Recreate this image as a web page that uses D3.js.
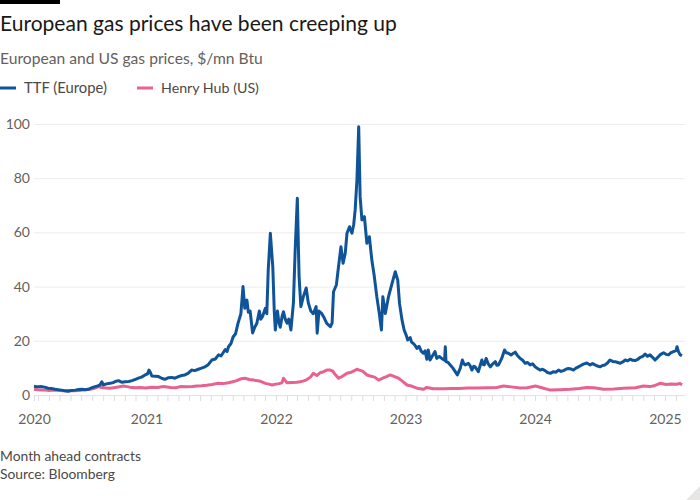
<!DOCTYPE html>
<html>
<head>
<meta charset="utf-8">
<script src="https://cdn.jsdelivr.net/npm/d3@7/dist/d3.min.js"></script>
<style>
  html, body { margin: 0; padding: 0; background: #ffffff; }
  svg { display: block; }
  text { font-family: "Lato", "Noto Sans", sans-serif; }
</style>
</head>
<body>
<svg id="chart" width="700" height="500"></svg>
<script>
// ---------------- DATA ----------------
const seriesNames = ["TTF (Europe)", "Henry Hub (US)"];
const seriesColors = ["#0f5499", "#e8628f"];

const ttfDates = ["2020-02-19","2020-03-01","2020-03-12","2020-03-20","2020-03-30","2020-04-08","2020-04-18","2020-04-28","2020-05-07","2020-05-15","2020-05-26","2020-06-03","2020-06-14","2020-06-24","2020-07-03","2020-07-12","2020-07-21","2020-07-30","2020-08-09","2020-08-16","2020-08-23","2020-08-28","2020-09-01","2020-09-10","2020-09-20","2020-09-30","2020-10-05","2020-10-14","2020-10-24","2020-11-02","2020-11-12","2020-11-21","2020-12-01","2020-12-09","2020-12-18","2020-12-28","2021-01-04","2021-01-08","2021-01-12","2021-01-16","2021-01-25","2021-02-04","2021-02-14","2021-02-22","2021-03-04","2021-03-13","2021-03-22","2021-04-01","2021-04-10","2021-04-19","2021-04-28","2021-05-08","2021-05-17","2021-05-27","2021-06-05","2021-06-15","2021-06-24","2021-07-04","2021-07-14","2021-07-23","2021-07-30","2021-08-11","2021-08-16","2021-08-20","2021-08-27","2021-09-02","2021-09-09","2021-09-16","2021-09-24","2021-09-30","2021-10-05","2021-10-11","2021-10-15","2021-10-20","2021-10-27","2021-11-02","2021-11-08","2021-11-15","2021-11-19","2021-11-24","2021-12-02","2021-12-06","2021-12-10","2021-12-16","2021-12-23","2021-12-27","2021-12-30","2022-01-05","2022-01-09","2022-01-13","2022-01-18","2022-01-22","2022-01-27","2022-02-01","2022-02-06","2022-02-12","2022-02-19","2022-02-24","2022-03-02","2022-03-07","2022-03-12","2022-03-19","2022-03-27","2022-04-02","2022-04-09","2022-04-16","2022-04-24","2022-04-27","2022-05-02","2022-05-10","2022-05-15","2022-05-24","2022-06-03","2022-06-08","2022-06-12","2022-06-20","2022-06-26","2022-07-03","2022-07-09","2022-07-15","2022-07-20","2022-07-27","2022-08-03","2022-08-08","2022-08-12","2022-08-17","2022-08-22","2022-08-26","2022-08-31","2022-09-07","2022-09-14","2022-09-21","2022-09-28","2022-10-05","2022-10-12","2022-10-19","2022-10-25","2022-10-29","2022-11-05","2022-11-14","2022-11-24","2022-12-03","2022-12-10","2022-12-15","2022-12-22","2022-12-28","2023-01-03","2023-01-07","2023-01-14","2023-01-18","2023-01-23","2023-01-28","2023-02-02","2023-02-08","2023-02-14","2023-02-20","2023-02-25","2023-03-02","2023-03-06","2023-03-11","2023-03-18","2023-03-25","2023-03-30","2023-04-06","2023-04-13","2023-04-21","2023-04-23","2023-04-25","2023-05-01","2023-05-07","2023-05-14","2023-05-21","2023-05-27","2023-06-04","2023-06-10","2023-06-14","2023-06-18","2023-06-27","2023-07-02","2023-07-07","2023-07-12","2023-07-16","2023-07-25","2023-08-04","2023-08-08","2023-08-11","2023-08-16","2023-08-22","2023-08-28","2023-09-04","2023-09-11","2023-09-15","2023-09-20","2023-09-29","2023-10-07","2023-10-12","2023-10-18","2023-10-25","2023-11-01","2023-11-06","2023-11-11","2023-11-20","2023-11-27","2023-12-04","2023-12-11","2023-12-18","2023-12-25","2024-01-01","2024-01-08","2024-01-15","2024-01-22","2024-01-29","2024-02-05","2024-02-13","2024-02-22","2024-02-29","2024-03-07","2024-03-14","2024-03-21","2024-03-28","2024-04-04","2024-04-11","2024-04-18","2024-04-25","2024-05-02","2024-05-09","2024-05-16","2024-05-26","2024-06-04","2024-06-11","2024-06-18","2024-06-25","2024-07-02","2024-07-09","2024-07-16","2024-07-23","2024-07-30","2024-08-07","2024-08-14","2024-08-21","2024-08-28","2024-09-04","2024-09-11","2024-09-18","2024-09-25","2024-10-02","2024-10-09","2024-10-16","2024-10-23","2024-10-30","2024-11-06","2024-11-13","2024-11-20","2024-11-27","2024-12-04","2024-12-11","2024-12-18","2024-12-28","2025-01-04","2025-01-11","2025-01-18","2025-01-25","2025-02-01","2025-02-04","2025-02-08","2025-02-13","2025-02-18"];
const ttfValues = [3.2,3.0,3.1,2.9,2.5,2.4,2.1,1.9,1.8,1.6,1.4,1.7,1.8,2.0,2.1,1.9,2.1,2.6,3.1,3.3,3.7,4.9,3.7,4.1,4.3,4.6,5.0,5.3,4.7,4.9,5.0,5.3,5.8,6.2,6.6,7.4,7.8,9.2,8.3,7.0,6.9,6.8,6.1,5.8,6.4,6.5,6.2,6.8,7.2,7.4,8.0,9.2,9.0,9.5,9.9,10.4,11.2,12.9,13.3,14.8,14.4,16.8,16.0,17.8,19.0,21.4,22.6,26.5,30,40,32,35,30.5,31,22.9,25,26.5,31,28,29,32,30,46,59.7,47,31,24,31,27,25,29,30.7,28,26.5,28,24,34,53.5,72.6,43.7,32.6,36.3,39.5,34,31,30,32.6,22.8,31,30,28.9,26.4,25.2,26.5,38.1,40.6,47.3,54.7,48.6,52.3,59.7,62.1,59.7,63,68.3,79.3,99,73.2,64.6,65.8,56,58.4,49.8,43.7,36.3,30.1,24,36.3,30.1,36.3,41.2,45.5,42.4,33.8,27.7,24,22,20.3,21.2,19.5,19,18.3,17.2,18,16.2,15.4,16.3,13.2,16.6,12.9,14.5,16,13.5,14.2,13.5,12.8,17.8,12.3,12.0,11.1,10.0,8.6,7.4,9.8,12.9,11.6,11.1,11.7,10.8,9.2,10.6,10.4,8.6,12.9,11.2,11.1,13.5,11.5,10.4,11.5,12.3,11.0,11.1,13.5,16.6,15.6,15.4,14.8,15.4,15.8,14.8,13.5,12.8,11.7,12.0,11.1,11.5,10.4,9.8,9.2,9.5,9.0,8.3,8.0,8.6,8.4,9.2,8.7,9.0,9.5,9.8,9.6,9.2,9.9,10.4,10.9,11.4,11.8,11.1,11.6,11.1,10.7,10.4,10.9,11.1,11.8,12.9,12.4,12.3,12.0,11.7,12.2,12.9,12.6,13.2,12.8,12.7,13.1,13.9,14.2,15.1,14.3,14.8,13.9,12.9,13.8,14.8,15.6,15.0,14.8,15.6,16,16.4,17.8,16,14.8,14.5];

const hhDates = ["2020-02-19","2020-03-01","2020-03-10","2020-03-22","2020-04-01","2020-04-18","2020-05-10","2020-05-28","2020-06-10","2020-06-25","2020-07-10","2020-07-26","2020-08-10","2020-08-18","2020-08-30","2020-09-20","2020-10-05","2020-10-28","2020-11-15","2020-11-30","2020-12-14","2020-12-30","2021-01-15","2021-02-01","2021-02-18","2021-03-10","2021-03-25","2021-04-06","2021-04-25","2021-05-10","2021-05-23","2021-06-05","2021-06-20","2021-07-05","2021-07-19","2021-08-05","2021-08-20","2021-09-01","2021-09-10","2021-09-25","2021-10-05","2021-10-18","2021-10-30","2021-11-15","2021-12-02","2021-12-12","2021-12-21","2022-01-03","2022-01-10","2022-01-18","2022-01-22","2022-02-01","2022-02-15","2022-03-01","2022-03-10","2022-03-20","2022-03-28","2022-04-08","2022-04-16","2022-04-26","2022-05-05","2022-05-15","2022-05-24","2022-06-03","2022-06-10","2022-06-14","2022-06-26","2022-07-06","2022-07-20","2022-08-01","2022-08-10","2022-08-17","2022-08-24","2022-09-02","2022-09-14","2022-09-26","2022-10-06","2022-10-17","2022-11-01","2022-11-10","2022-11-19","2022-12-01","2022-12-12","2022-12-22","2023-01-05","2023-01-20","2023-02-02","2023-02-20","2023-03-02","2023-03-20","2023-04-18","2023-05-10","2023-06-01","2023-06-25","2023-07-21","2023-08-20","2023-09-15","2023-10-04","2023-10-25","2023-11-20","2023-12-10","2024-01-02","2024-01-20","2024-02-13","2024-03-10","2024-04-09","2024-05-05","2024-05-26","2024-06-15","2024-07-12","2024-08-10","2024-09-06","2024-10-10","2024-11-01","2024-11-20","2024-12-01","2024-12-18","2025-01-05","2025-01-17","2025-02-05","2025-02-12","2025-02-18"];
const hhValues = [2.1,1.9,1.8,1.8,1.7,1.8,1.6,1.7,1.6,1.7,1.9,2.1,2.6,3.1,2.7,2.5,2.8,3.3,2.9,2.7,2.8,2.6,2.9,2.8,3.1,2.8,2.7,3.1,3.0,3.1,3.3,3.4,3.6,3.9,4.3,4.2,4.5,4.9,5.2,6.0,6.2,5.7,5.5,5.2,4.3,4.0,3.7,4.1,4.2,4.6,6.2,4.5,4.6,4.7,4.9,5.2,5.6,6.6,8.0,7.2,8.2,8.6,9.2,9.2,8.8,8.0,6.2,6.8,8.0,8.4,9.0,9.5,9.2,8.8,7.4,6.9,6.6,5.5,6.4,6.9,7.4,6.8,6.2,5.2,3.7,3.2,2.5,2.1,2.8,2.3,2.3,2.4,2.4,2.6,2.6,2.7,2.8,3.3,3.0,2.6,2.7,3.3,2.7,1.8,1.9,2.1,2.4,2.8,2.7,2.1,2.2,2.5,2.7,3.3,3.1,3.4,4.3,3.9,4.1,4.0,4.3,3.7];

const yTickValues = [0, 20, 40, 60, 80, 100];
const xDomainDates = ["2020-02-19", "2025-02-18"];
const xYearLabels = ["2020", "2021", "2022", "2023", "2024", "2025"];

const titleText = "European gas prices have been creeping up";
const subtitleText = "European and US gas prices, $/mn Btu";
const noteText = "Month ahead contracts";
const sourceText = "Source: Bloomberg";

// ---------------- CHART ----------------
const parse = d3.utcParse("%Y-%m-%d");
const svg = d3.select("#chart");
const W = 700, H = 500;
const plotLeft = 34, plotRight = 682, gridRight = 685;
const yTop = 124, yBottom = 395;

svg.append("rect").attr("width", W).attr("height", H).attr("fill", "#ffffff");
svg.append("rect").attr("x", 0).attr("y", 0).attr("width", 60).attr("height", 4).attr("fill", "#000000");

function fit(sel, target) {
  const len = sel.node().getComputedTextLength();
  const fs = parseFloat(sel.attr("font-size"));
  sel.attr("font-size", (fs * target / len).toFixed(2));
}

const title = svg.append("text").attr("x", 0).attr("y", 31).attr("font-size", 20)
  .attr("fill", "#1a1817").text(titleText);
fit(title, 397);

const sub = svg.append("text").attr("x", 0).attr("y", 64).attr("font-size", 15)
  .attr("fill", "#66605c").text(subtitleText);
fit(sub, 263);

const x = d3.scaleUtc().domain(xDomainDates.map(parse)).range([plotLeft, plotRight]);
const y = d3.scaleLinear().domain([0, 100]).range([yBottom, yTop]);

// legend
const legend = svg.append("g");
const legendX = [0, 137];
seriesNames.forEach((name, i) => {
  legend.append("line").attr("x1", legendX[i]).attr("x2", legendX[i] + 16)
    .attr("y1", 88).attr("y2", 88).attr("stroke", seriesColors[i]).attr("stroke-width", 3);
  const t = legend.append("text").attr("x", legendX[i] + 24).attr("y", 93).attr("font-size", 14)
    .attr("fill", "#4d4845").text(name);
  fit(t, i === 0 ? 83 : 98);
});

// gridlines
const yAxis = d3.axisLeft(y).tickValues(yTickValues).tickSize(-(gridRight - plotLeft)).tickPadding(5);
const gy = svg.append("g").attr("transform", `translate(${plotLeft},0)`).call(yAxis);
gy.select(".domain").remove();
gy.selectAll(".tick line").attr("stroke", "#efece9").attr("stroke-width", 1);
gy.selectAll(".tick text").attr("font-size", 14).attr("fill", "#66605c")
  .attr("font-family", "Lato, 'Noto Sans', sans-serif").attr("x", -4);

// x axis: monthly minor ticks + year labels
const monthTicks = [x.domain()[0]].concat(d3.utcMonth.range(x.domain()[0], d3.utcDay.offset(x.domain()[1], 1)));
const xAxisMinor = d3.axisBottom(x).tickValues(monthTicks).tickSize(6).tickFormat("");
const gxm = svg.append("g").attr("transform", `translate(0,${yBottom})`).call(xAxisMinor);
gxm.select(".domain").attr("stroke", "#e6e2de").attr("d", `M${plotLeft},0.5H${gridRight}`);
gxm.selectAll(".tick line").attr("stroke", "#e0dcd8");

const yearTicks = xYearLabels.map((s, i) => i === 0 ? x.domain()[0] : parse(s + "-01-01"));
const xAxisYears = d3.axisBottom(x).tickValues(yearTicks).tickSize(0).tickPadding(24)
  .tickFormat((d, i) => xYearLabels[i]);
const gx = svg.append("g").attr("transform", `translate(0,${yBottom})`).call(xAxisYears);
gx.select(".domain").remove();
gx.selectAll(".tick text").attr("font-size", 14).attr("fill", "#66605c")
  .attr("font-family", "Lato, 'Noto Sans', sans-serif").attr("dy", "0").attr("y", 28.5);

// lines
const line = d3.line().x(d => x(d.date)).y(d => y(d.value)).curve(d3.curveLinear);
const hhData = hhDates.map((d, i) => ({ date: parse(d), value: hhValues[i] }));
const ttfData = ttfDates.map((d, i) => ({ date: parse(d), value: ttfValues[i] }));

svg.append("path").datum(hhData).attr("d", line).attr("fill", "none")
  .attr("stroke", seriesColors[1]).attr("stroke-width", 3).attr("stroke-linejoin", "round");
svg.append("path").datum(ttfData).attr("d", line).attr("fill", "none")
  .attr("stroke", seriesColors[0]).attr("stroke-width", 3).attr("stroke-linejoin", "round");

// footer
const n1 = svg.append("text").attr("x", 0).attr("y", 461).attr("font-size", 13)
  .attr("fill", "#4d4845").text(noteText);
fit(n1, 141);
const n2 = svg.append("text").attr("x", 0).attr("y", 479).attr("font-size", 13)
  .attr("fill", "#4d4845").text(sourceText);
fit(n2, 115);

// corner fold
svg.append("path").attr("d", "M700,486L700,500L686,500Z").attr("fill", "#e8e6e4");
</script>
</body>
</html>
